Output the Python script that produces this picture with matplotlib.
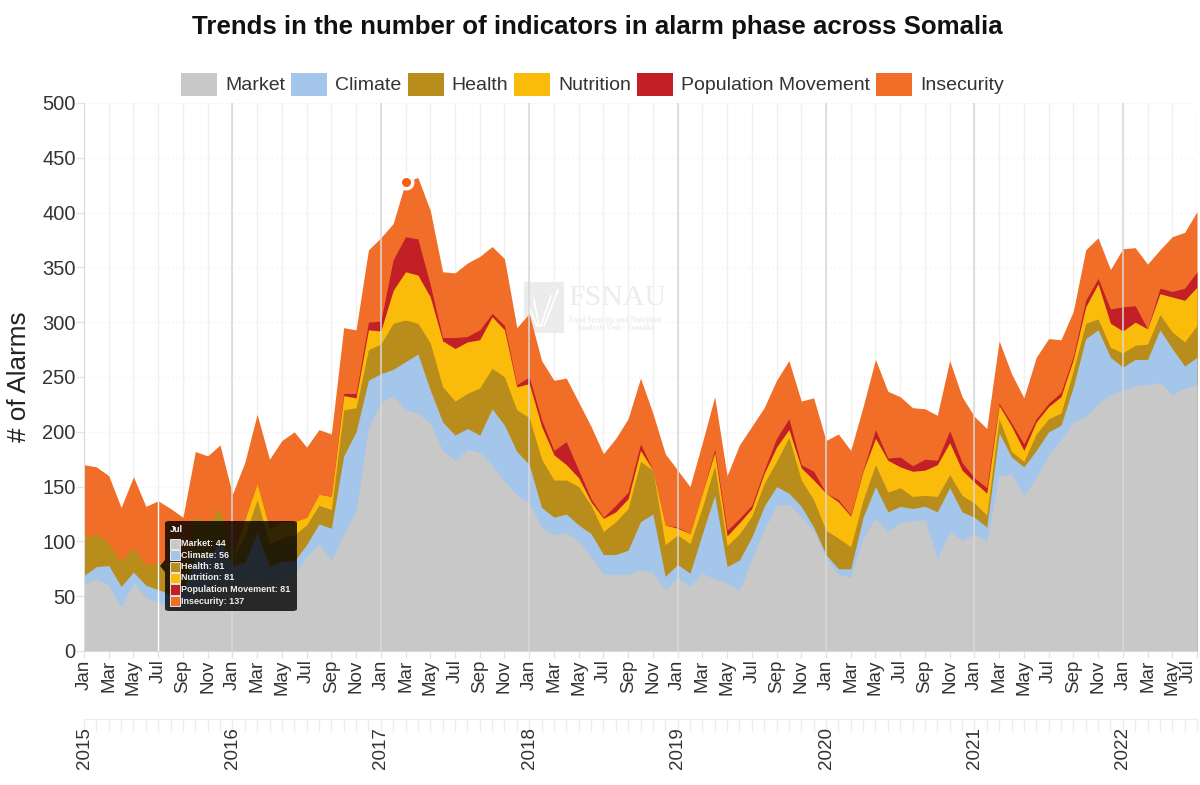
import matplotlib
matplotlib.use('Agg')
import matplotlib.pyplot as plt
from matplotlib.lines import Line2D
from matplotlib.patches import FancyBboxPatch, Polygon, Rectangle

plt.rcParams['font.family'] = ['Liberation Sans', 'DejaVu Sans']

WIDTH, HEIGHT = 1200, 785

month_names = ['Jan', 'Feb', 'Mar', 'Apr', 'May', 'Jun', 'Jul', 'Aug', 'Sep', 'Oct', 'Nov', 'Dec']
years = [2015, 2016, 2017, 2018, 2019, 2020, 2021, 2022]

# values are cumulative, the tooltip of the chart shows them that way too
market = [61, 66, 60, 40, 62, 49, 44, 40, 38, 55, 58, 62,
          60, 65, 66, 62, 66, 70, 86, 98, 83, 107, 127, 204,
          227, 233, 220, 217, 208, 183, 174, 184, 181, 170, 155, 143,
          135, 113, 106, 108, 100, 86, 70, 70, 70, 74, 72, 56,
          67, 59, 71, 66, 62, 55, 84, 111, 133, 134, 122, 110,
          85, 70, 67, 104, 121, 109, 117, 119, 120, 84, 109, 101,
          107, 100, 160, 162, 142, 158, 179, 193, 209, 214, 226, 234,
          238, 242, 243, 245, 234, 240, 243]
climate = [69, 77, 78, 59, 72, 60, 56, 52, 55, 85, 85, 100,
           78, 81, 108, 77, 82, 82, 97, 116, 112, 178, 200, 247,
           253, 257, 264, 271, 238, 209, 197, 203, 197, 221, 206, 182,
           170, 131, 122, 125, 115, 107, 88, 88, 92, 118, 125, 68,
           79, 71, 107, 142, 77, 83, 104, 132, 150, 144, 132, 113,
           88, 75, 75, 122, 150, 127, 132, 130, 132, 127, 149, 127,
           122, 113, 199, 177, 168, 183, 200, 206, 241, 285, 293, 268,
           259, 266, 266, 293, 276, 260, 268]
health = [103, 107, 98, 82, 95, 78, 81, 79, 76, 122, 115, 130,
          85, 105, 138, 98, 103, 106, 115, 133, 129, 220, 222, 275,
          280, 299, 302, 299, 281, 241, 228, 235, 240, 258, 250, 220,
          213, 175, 156, 156, 150, 133, 109, 118, 130, 173, 165, 97,
          106, 98, 131, 169, 96, 107, 123, 153, 173, 195, 156, 138,
          110, 103, 95, 138, 170, 145, 149, 141, 142, 141, 161, 142,
          135, 124, 212, 182, 173, 198, 212, 217, 256, 299, 303, 277,
          272, 279, 280, 307, 291, 282, 297]
nutrition = [103, 107, 98, 82, 95, 78, 81, 79, 76, 122, 115, 130,
             85, 120, 153, 112, 118, 118, 122, 143, 141, 233, 231, 293,
             292, 329, 346, 343, 323, 283, 276, 282, 284, 305, 293, 241,
             244, 205, 179, 170, 158, 136, 121, 127, 139, 183, 165, 115,
             112, 107, 144, 181, 105, 117, 130, 162, 186, 202, 167, 156,
             144, 136, 123, 164, 194, 174, 168, 164, 165, 170, 190, 165,
             154, 144, 224, 205, 183, 209, 223, 232, 266, 314, 335, 299,
             292, 300, 294, 326, 323, 320, 332]
population = [103, 107, 98, 82, 95, 78, 81, 79, 76, 122, 115, 130,
              85, 120, 153, 112, 118, 118, 122, 143, 141, 235, 235, 300,
              301, 357, 378, 376, 334, 286, 286, 287, 293, 308, 297, 243,
              250, 211, 183, 191, 165, 139, 122, 133, 145, 189, 165, 115,
              113, 107, 144, 184, 110, 121, 133, 165, 194, 212, 170, 164,
              144, 138, 124, 165, 202, 176, 177, 169, 175, 174, 201, 172,
              158, 149, 226, 208, 189, 212, 226, 236, 269, 320, 340, 312,
              314, 315, 294, 331, 328, 331, 346]
insecurity = [170, 168, 160, 131, 159, 132, 137, 130, 122, 182, 178, 188,
              143, 172, 216, 175, 192, 200, 186, 202, 198, 295, 293, 366,
              377, 390, 428, 432, 402, 346, 345, 354, 360, 369, 358, 295,
              308, 265, 247, 249, 227, 205, 180, 194, 212, 249, 217, 180,
              165, 150, 190, 232, 160, 188, 205, 222, 247, 265, 228, 231,
              192, 198, 183, 223, 266, 237, 232, 222, 221, 215, 265, 232,
              214, 203, 283, 253, 231, 268, 285, 284, 310, 366, 377, 348,
              367, 368, 353, 366, 378, 382, 401]

names = ['Market', 'Climate', 'Health', 'Nutrition', 'Population Movement', 'Insecurity']
colors = ['#c8c8c8', '#a3c6ea', '#b88d1c', '#fbbb0b', '#c21f26', '#f06e27']
series = [market, climate, health, nutrition, population, insecurity]

months = list(range(len(market)))
month_labels = [month_names[i % 12] for i in months]
hover = 6
peak = 26


def fx(x):
    return x / WIDTH


def fy(y):
    return 1 - y / HEIGHT


fig = plt.figure(figsize=(WIDTH / 100, HEIGHT / 100), dpi=100)
ax = fig.add_axes([fx(84), fy(651), fx(1197 - 84), fy(103) - fy(651)])

# stacked from the top down so that each layer hides the one behind it
for values, color in zip(reversed(series), reversed(colors)):
    ax.fill_between(months, 0, values, color=color, lw=0, zorder=2)

ax.set_xlim(0, months[-1])
ax.set_ylim(0, 500)
ax.set_yticks(range(0, 501, 50))
ax.set_xticks(months[::2])
ax.set_xticklabels(month_labels[::2], rotation=90, fontsize=13.5, color='#333333')
ax.get_xticklabels()[-1].set_ha('right')
ax.tick_params(axis='x', length=5, width=1, color='#e4e4e4', pad=1)
ax.tick_params(axis='y', length=6, width=1, color='#e4e4e4', labelsize=14.5, labelcolor='#333333', pad=0)
ax.set_ylabel('# of Alarms', fontsize=18.8, color='#222222', labelpad=8)
ax.grid(axis='x', color='#f0f0f0', lw=1, zorder=0)
ax.grid(axis='y', color='#f0f0f0', lw=1, ls=(0, (1, 2)), zorder=0)
ax.set_axisbelow(True)
for side in ['top', 'right']:
    ax.spines[side].set_visible(False)
ax.spines['left'].set_color('#e4e4e4')
ax.spines['bottom'].set_color('#e0d8d0')

# year lines sit on top of the areas
for i in months[::12]:
    ax.axvline(i, color='#d8d8d8', lw=1.3, alpha=0.85, zorder=3)
ax.vlines(hover, 0, insecurity[hover], color='white', lw=1, zorder=4)
ax.plot([peak], [insecurity[peak]], 'o', ms=9, mfc='#f4600c', mec='white', mew=2.5, zorder=5, clip_on=False)

# watermark
ax.add_patch(Rectangle((fx(524), fy(333)), fx(40), fy(282) - fy(333), transform=fig.transFigure,
                       fc='#ececec', ec='none', zorder=1))
for x0, x1, y1 in [(539, 534, 300), (541, 551, 296), (544, 558, 290), (537, 529, 308)]:
    ax.add_line(Line2D([fx(x0), fx(x1)], [fy(326), fy(y1)], transform=fig.transFigure, color='white', lw=1.3, zorder=1))
ax.text(fx(568), fy(298), 'FSNAU', transform=fig.transFigure, family=['Liberation Serif'], fontsize=21.5,
        color='#ececec', va='center', zorder=1)
ax.text(fx(615), fy(320), 'Food Security and Nutrition', transform=fig.transFigure, family=['Liberation Serif'],
        fontsize=5.5, fontweight='bold', color='#ececec', ha='center', va='center', zorder=1)
ax.text(fx(615), fy(328), 'Analysis Unit - Somalia', transform=fig.transFigure, family=['Liberation Serif'],
        fontsize=5.5, fontweight='bold', color='#ececec', ha='center', va='center', zorder=1)

# year axis
ax_years = fig.add_axes([fx(84), fy(720), fx(1197 - 84), 0.001])
ax_years.set_xlim(0, months[-1])
ax_years.set_ylim(0, 1)
ax_years.set_yticks([])
ax_years.set_xticks(months[::12])
ax_years.set_xticklabels([str(y) for y in years], rotation=90, fontsize=13.5, color='#333333')
ax_years.set_xticks(months, minor=True)
ax_years.tick_params(axis='x', which='major', length=8, width=1, color='#ececec', pad=-3)
ax_years.tick_params(axis='x', which='minor', length=8, width=1, color='#ececec')
for side in ['left', 'right', 'bottom']:
    ax_years.spines[side].set_visible(False)
ax_years.spines['top'].set_color('#ececec')

# title and legend
fig.text(fx(597), fy(27), 'Trends in the number of indicators in alarm phase across Somalia',
         fontsize=18.6, fontweight='bold', color='#111111', ha='center', va='center')
swatch_left = [181, 291, 408, 514, 637, 876]
text_left = [225, 335, 451, 558, 681, 920]
for name, color, sx, tx in zip(names, colors, swatch_left, text_left):
    fig.patches.append(Rectangle((fx(sx), fy(96)), fx(36), fy(73) - fy(96), transform=fig.transFigure,
                                 fc=color, ec='none', figure=fig))
    fig.text(fx(tx), fy(85), name, fontsize=14, color='#333333', va='center')

# tooltip at Jul 2015
box = FancyBboxPatch((fx(165), fy(611)), fx(132), fy(521) - fy(611), transform=fig.transFigure,
                     boxstyle='round,pad=0,rounding_size=0.004', mutation_aspect=HEIGHT / WIDTH,
                     fc='black', ec='none', alpha=0.8, figure=fig, lw=0)
fig.patches.append(box)
fig.patches.append(Polygon([(fx(160), fy(566)), (fx(165), fy(560)), (fx(165), fy(572))], transform=fig.transFigure,
                           fc='black', ec='none', alpha=0.8, figure=fig))
fig.text(fx(170), fy(529), month_labels[hover], fontsize=6.5, fontweight='bold', color='white', va='center')
for k, (name, color, values) in enumerate(zip(names, colors, series)):
    row = 543.5 + k * 11.5
    fig.patches.append(Rectangle((fx(170), fy(row + 5)), fx(10), fy(row - 5) - fy(row + 5), transform=fig.transFigure,
                                 fc=color, ec='white', lw=0.6, figure=fig))
    fig.text(fx(181), fy(row), f'{name}: {values[hover]}', fontsize=6.45, fontweight='bold', color='#eeeeee', va='center')

fig.savefig('out.png', dpi=100)
